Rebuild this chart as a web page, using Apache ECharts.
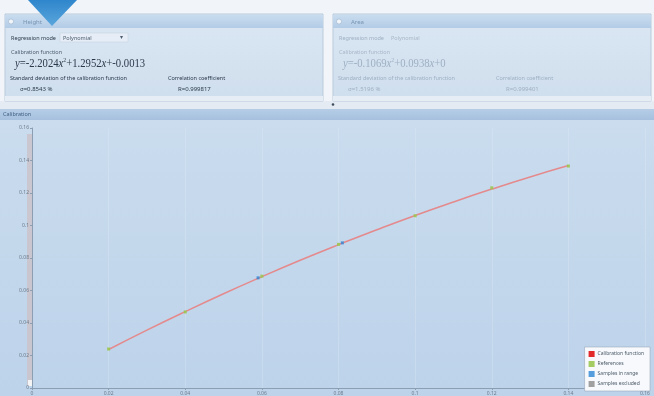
<!DOCTYPE html>
<html>
<head>
<meta charset="utf-8">
<script src="https://cdn.jsdelivr.net/npm/echarts@6/dist/echarts.min.js"></script>
<style>
  html, body { margin: 0; padding: 0; background: #f1f4f8; }
  #main { width: 654px; height: 396px; }
</style>
</head>
<body>
<div id="main"></div>
<script>
// calibration curve y = -2.2024x^2 + 1.2952x - 0.0013
var curveX = [0.02, 0.03, 0.04, 0.05, 0.06, 0.07, 0.08, 0.09, 0.10, 0.11, 0.12, 0.13, 0.14];
var curveY = [0.0237, 0.0356, 0.0470, 0.0580, 0.0685, 0.0786, 0.0882, 0.0974, 0.1062, 0.1145, 0.1224, 0.1299, 0.1369];

// reference points (green)
var refX = [0.02, 0.04, 0.06, 0.08, 0.10, 0.12, 0.14];
var refY = [0.0240, 0.0468, 0.0688, 0.0884, 0.1060, 0.1232, 0.1366];

// samples in range (blue)
var sampleX = [0.059, 0.081];
var sampleY = [0.0678, 0.0893];

var tickLabels = ['0', '0.02', '0.04', '0.06', '0.08', '0.1', '0.12', '0.14', '0.16'];

var legendNames = ['Calibration function', 'References', 'Samples in range', 'Samples excluded'];

function pairs(xs, ys) {
  var out = [];
  for (var i = 0; i < xs.length; i++) out.push([xs[i], ys[i]]);
  return out;
}

var FONT = 'Noto Sans';

// one settings panel (top)
function panel(x0, title, eq, sigma, r, dim) {
  var txt = dim ? '#9fb0c3' : '#2b3a4a';
  var sub = dim ? '#a8b7c8' : '#4d5d6e';
  var eqFont = '13px "Liberation Serif"';
  return [
    { type: 'rect', shape: { x: x0, y: 14, width: 318, height: 87 },
      style: { fill: new echarts.graphic.LinearGradient(0, 0, 0, 1, [
        { offset: 0, color: '#dbe7f3' }, { offset: 1, color: '#cfdeed' }]),
        stroke: '#b9cbdd', lineWidth: 1 } },
    { type: 'rect', shape: { x: x0, y: 15, width: 318, height: 13 },
      style: { fill: new echarts.graphic.LinearGradient(0, 0, 0, 1, [
        { offset: 0, color: '#c9dcef' }, { offset: 1, color: '#b3cce6' }]) } },
    { type: 'circle', shape: { cx: x0 + 6, cy: 21.5, r: 2.5 },
      style: { fill: '#f2f6fb', stroke: '#8fa8c2', lineWidth: 0.5 } },
    { type: 'text', x: x0 + 18, y: 19, style: { text: title, fill: '#7894b3', font: '6px ' + FONT } },
    { type: 'text', x: x0 + 6, y: 35, style: { text: 'Regression mode', fill: txt, font: '5.5px ' + FONT } },
    { type: 'rect', shape: { x: x0 + 55, y: 33, width: 68, height: 9 },
      style: { fill: dim ? 'transparent' : '#e6edf6', stroke: dim ? 'transparent' : '#c2d0df', lineWidth: 0.5 } },
    { type: 'text', x: x0 + 58, y: 35, style: { text: 'Polynomial', fill: sub, font: '5.5px ' + FONT } },
    dim ? { type: 'group' } :
      { type: 'text', x: x0 + 115, y: 34, style: { text: '▾', fill: '#4d5d6e', font: '6px ' + FONT } },
    { type: 'text', x: x0 + 6, y: 49, style: { text: 'Calibration function', fill: sub, font: '5.5px ' + FONT } },
    { type: 'text', x: x0 + 10, y: 57, scaleX: 0.82, style: { rich: {
        v: { fill: txt, font: 'italic ' + eqFont },
        n: { fill: txt, font: eqFont },
        s: { fill: txt, font: '7px "Liberation Serif"', verticalAlign: 'top', padding: [0, 0, 6, 0] } },
      text: eq } },
    { type: 'text', x: x0 + 5, y: 75, style: { text: 'Standard deviation of the calibration function', fill: txt, font: '5.5px ' + FONT } },
    { type: 'text', x: x0 + 163, y: 75, style: { text: 'Correlation coefficient', fill: txt, font: '5.5px ' + FONT } },
    { type: 'text', x: x0 + 15, y: 86, style: { text: sigma, fill: txt, font: '6px ' + FONT } },
    { type: 'text', x: x0 + 173, y: 86, style: { text: r, fill: txt, font: '6px ' + FONT } },
    { type: 'rect', shape: { x: x0, y: 96, width: 318, height: 5 }, style: { fill: '#e6edf5' } }
  ];
}

var graphics = [
  // chart area background
  { type: 'rect', z: -10, shape: { x: 0, y: 120, width: 654, height: 276 },
    style: { fill: new echarts.graphic.LinearGradient(0, 0, 0, 1, [
      { offset: 0, color: '#cadcee' }, { offset: 1, color: '#bdd3ea' }]) } },
  // splitter
  { type: 'rect', shape: { x: 0, y: 101, width: 654, height: 8 }, style: { fill: '#e4ebf3' } },
  { type: 'circle', shape: { cx: 333, cy: 104.5, r: 1.3 }, style: { fill: '#3d4b5a' } },
  // calibration header
  { type: 'rect', shape: { x: 0, y: 109, width: 654, height: 11 },
    style: { fill: new echarts.graphic.LinearGradient(0, 0, 0, 1, [
      { offset: 0, color: '#b6cde6' }, { offset: 1, color: '#a5c0de' }]) } },
  { type: 'text', x: 3, y: 111.5, style: { text: 'Calibration', fill: '#3f5f85', font: '5.5px ' + FONT } },
  // grey scroll-like bar next to y axis
  { type: 'rect', shape: { x: 27, y: 134, width: 5, height: 252 },
    style: { fill: '#cbc3cb', opacity: 0.85 } },
  { type: 'rect', shape: { x: 28, y: 380, width: 4, height: 6 }, style: { fill: '#f4f4f4' } }
];
graphics = graphics
  .concat(panel(5, 'Height', '{v|y}{n|=-2.2024}{v|x}{s|2}{n|+1.2952}{v|x}{n|+-0.0013}', 'σ=0.8543 %', 'R=0.999817', false))
  .concat(panel(333, 'Area', '{v|y}{n|=-0.1069}{v|x}{s|2}{n|+0.0938}{v|x}{n|+0}', 'σ=1.5196 %', 'R=0.999401', true));
// blue marker triangle at top
graphics.push({ type: 'polygon', z: 10, shape: { points: [[28, 0], [77, 0], [52, 26]] },
  style: { fill: new echarts.graphic.LinearGradient(0, 0, 0, 1, [
    { offset: 0, color: '#2f86cc' }, { offset: 1, color: '#5aa6dc' }]) } });

var chart = echarts.init(document.getElementById('main'));

var axisCommon = {
  type: 'value',
  min: 0,
  max: 0.16,
  interval: 0.02,
  axisLine: { show: true, lineStyle: { color: '#8c9eb2', width: 1 } },
  axisTick: { show: true, length: 2, lineStyle: { color: '#8c9eb2' } },
  axisLabel: {
    fontSize: 5, color: '#6d7b8a', fontFamily: FONT, margin: 3,
    formatter: function (v) { return tickLabels[Math.round(v / 0.02)]; }
  }
};

chart.setOption({
  animation: false,
  backgroundColor: '#f1f4f8',
  graphic: graphics,
  grid: { left: 32, right: 9, top: 128, bottom: 6 },
  xAxis: Object.assign({}, axisCommon, {
    splitLine: { show: true, lineStyle: { color: 'rgba(255,255,255,0.16)', width: 1 } }
  }),
  yAxis: Object.assign({}, axisCommon, {
    splitLine: { show: false }
  }),
  legend: {
    data: legendNames,
    orient: 'vertical',
    right: 4,
    bottom: 5,
    backgroundColor: '#f7f9fc',
    borderColor: '#8f9db0',
    borderWidth: 0.5,
    borderRadius: 0,
    padding: [4, 6, 4, 4],
    itemGap: 4,
    itemWidth: 6,
    itemHeight: 6,
    icon: 'rect',
    textStyle: { fontSize: 5, color: '#4a5968', fontFamily: FONT, padding: [0, 0, 0, -2] }
  },
  series: [
    {
      name: 'Calibration function',
      type: 'line',
      data: pairs(curveX, curveY),
      smooth: true,
      showSymbol: false,
      color: '#e32a2a',
      lineStyle: { color: '#e48a8d', width: 1.6 },
      z: 2
    },
    {
      name: 'References',
      type: 'scatter',
      data: pairs(refX, refY),
      symbol: 'rect',
      symbolSize: 3,
      itemStyle: { color: '#9bc751', opacity: 0.9 },
      z: 3
    },
    {
      name: 'Samples in range',
      type: 'scatter',
      data: pairs(sampleX, sampleY),
      symbol: 'rect',
      symbolSize: 3,
      itemStyle: { color: '#2d86d6', opacity: 0.8 },
      z: 4
    },
    {
      name: 'Samples excluded',
      type: 'scatter',
      data: [],
      symbol: 'rect',
      itemStyle: { color: '#8a8a8a' }
    }
  ]
});
</script>
</body>
</html>
